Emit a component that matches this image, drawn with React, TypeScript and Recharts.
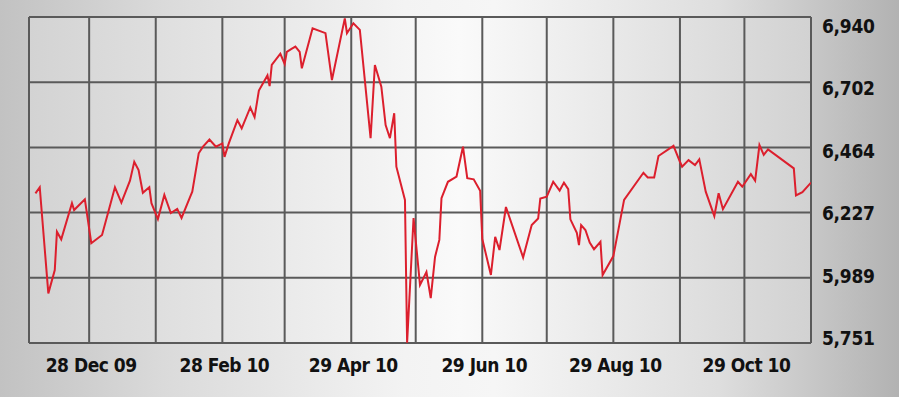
import React from "react";
import { LineChart, Line, XAxis, YAxis, CartesianGrid } from "recharts";

// Days counted from 28 Nov 2009
const sessionDays = [
  5, 7, 11, 14, 15, 17, 22, 23, 28, 31, 36, 40, 42, 45, 49, 51, 53, 55, 58, 59,
  62, 65, 68, 71, 73, 77, 78, 81, 83, 86, 89, 92, 93, 95, 99, 101, 105, 107, 109, 113,
  114, 115, 119, 121, 122, 124, 126, 128, 129, 134, 140, 143, 149, 150, 153, 156, 161, 163, 166, 168,
  170, 172, 173, 177, 178, 181, 184, 187, 189, 191, 193, 194, 197, 201, 204, 206, 209, 212, 213, 217,
  219, 221, 224, 232, 236, 239, 240, 243, 246, 249, 251, 253, 254, 257, 258, 259, 261, 263, 265, 268,
  269, 274, 279, 288, 290, 293, 295, 302, 305, 306, 309, 312, 314, 317, 321, 323, 325, 332, 334, 338,
  340, 342, 344, 346, 358, 359, 362, 366,
];

const closeValues = [
  6297, 6319, 5932, 6017, 6157, 6129, 6261, 6236, 6275, 6115, 6145, 6261, 6319, 6263, 6343, 6412, 6382, 6299, 6319, 6261,
  6203, 6291, 6225, 6240, 6207, 6284, 6303, 6443, 6467, 6493, 6467, 6479, 6430, 6479, 6564, 6534, 6610, 6575, 6672, 6727,
  6688, 6765, 6806, 6769, 6813, 6823, 6832, 6813, 6753, 6899, 6881, 6710, 6935, 6881, 6917, 6893, 6498, 6765, 6686, 6546,
  6498, 6589, 6394, 6273, 5752, 6207, 5963, 6010, 5915, 6065, 6127, 6279, 6339, 6358, 6467, 6352, 6348, 6306, 6130, 5999,
  6138, 6090, 6247, 6063, 6181, 6205, 6278, 6285, 6339, 6307, 6336, 6312, 6202, 6153, 6108, 6181, 6163, 6117, 6093, 6120,
  5999, 6068, 6273, 6372, 6355, 6355, 6433, 6470, 6412, 6394, 6418, 6400, 6421, 6303, 6214, 6297, 6239, 6339, 6321, 6367,
  6343, 6473, 6437, 6457, 6388, 6289, 6301, 6336,
];

const monthTickDays = [2, 30, 61, 92, 121, 152, 182, 213, 243, 274, 305, 335, 366];
const monthTickLabels = ["", "28 Dec 09", "", "28 Feb 10", "", "29 Apr 10", "", "29 Jun 10", "", "29 Aug 10", "", "29 Oct 10", ""];

const priceTicks = [5751, 5988.8, 6226.6, 6464.4, 6702.2, 6940];
const priceTickLabels = ["5,751", "5,989", "6,227", "6,464", "6,702", "6,940"];

const data = sessionDays.map((d, i) => ({ day: d, value: closeValues[i] }));

const FONT = "'DejaVu Sans Condensed', 'Liberation Sans Narrow', 'Arial Narrow', sans-serif";

const XTick = (props: any) => {
  const { x, y, payload } = props;
  const i = monthTickDays.indexOf(payload.value);
  const label = i >= 0 ? monthTickLabels[i] : "";
  if (!label) return <g />;
  return (
    <text x={x + 2} y={y + 29} textAnchor="middle" fontFamily={FONT} fontWeight={700} fontSize={19} letterSpacing={-0.5} fill="#111">
      {label}
    </text>
  );
};

const YTick = (props: any) => {
  const { x, y, payload } = props;
  const i = priceTicks.indexOf(payload.value);
  const label = i >= 0 ? priceTickLabels[i] : "";
  const shift = -5 + 2.8 * i;
  return (
    <text x={x + 11} y={y + shift + 7} textAnchor="start" fontFamily={FONT} fontWeight={700} fontSize={19} letterSpacing={-0.3} fill="#111">
      {label}
    </text>
  );
};

export default function App() {
  return (
    <div
      style={{
        position: "fixed",
        left: 0,
        top: 0,
        width: 899,
        height: 397,
        background: "linear-gradient(to right, #c2c2c2 0%, #dadada 18%, #f3f3f3 45%, #f6f6f6 55%, #dedede 80%, #b2b2b2 100%)",
      }}
    >
      <svg width={0} height={0} style={{ position: "absolute" }}>
        <defs>
          <linearGradient id="plotBg" x1="0" y1="0" x2="1" y2="0">
            <stop offset="0%" stopColor="#d3d3d3" />
            <stop offset="55%" stopColor="#fafafa" />
            <stop offset="100%" stopColor="#d2d2d2" />
          </linearGradient>
        </defs>
      </svg>
      <LineChart width={899} height={397} data={data} margin={{ top: 17, right: 0, bottom: 0, left: 29 }}>
        <CartesianGrid stroke="#5a5a5a" strokeWidth={2} fill="url(#plotBg)" fillOpacity={1} />
        <XAxis
          dataKey="day"
          type="number"
          domain={[2, 366]}
          ticks={monthTickDays}
          interval={0}
          allowDataOverflow
          axisLine={false}
          tickLine={false}
          tickSize={0}
          tickMargin={0}
          height={54}
          tick={XTick}
        />
        <YAxis
          orientation="right"
          type="number"
          domain={[5751, 6940]}
          ticks={priceTicks}
          interval={0}
          allowDataOverflow
          axisLine={false}
          tickLine={false}
          tickSize={0}
          tickMargin={0}
          width={88}
          tick={YTick}
        />
        <Line type="linear" dataKey="value" stroke="#dc1f2d" strokeWidth={2} dot={false} isAnimationActive={false} />
      </LineChart>
    </div>
  );
}
